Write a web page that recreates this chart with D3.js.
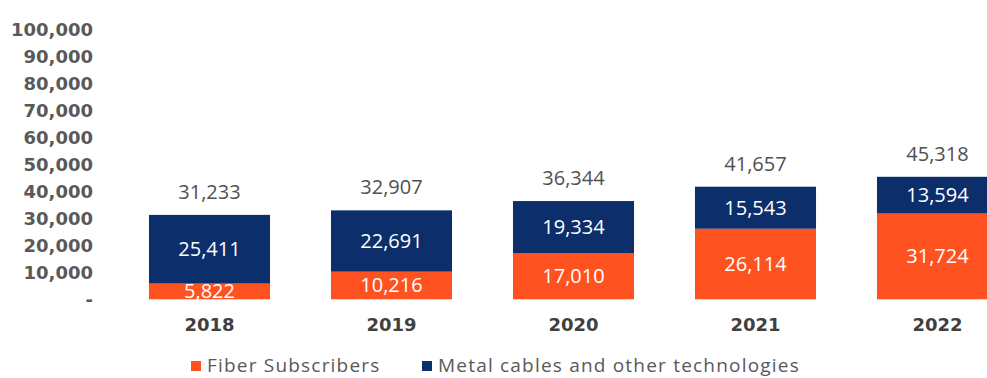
<!DOCTYPE html>
<html><head><meta charset="utf-8">
<script src="https://cdn.jsdelivr.net/npm/d3@7"></script>
<style>body{margin:0;background:#fff}svg{display:block}</style>
</head><body>
<svg id="c" width="987" height="378"></svg>
<script>
const years = ["2018","2019","2020","2021","2022"];
const fiber = [5822, 10216, 17010, 26114, 31724];
const metal = [25411, 22691, 19334, 15543, 13594];
const totals = [31233, 32907, 36344, 41657, 45318];
const yTicks = [0,10000,20000,30000,40000,50000,60000,70000,80000,90000,100000];
const seriesNames = ["Fiber Subscribers","Metal cables and other technologies"];
const colors = ["#FF5221","#0C2E6B"];

const svg = d3.select("#c");
const x = d3.scaleBand().domain(years).range([118.5, 1028.5]).paddingInner(0.335).paddingOuter(0.1675);
const y = d3.scaleLinear().domain([0,100000]).range([299.3, 29]);
const fmt = d3.format(",");

// y axis labels
const yAxis = d3.axisLeft(y).tickValues(yTicks).tickSize(0).tickPadding(0)
  .tickFormat(d => d === 0 ? "-" : fmt(d));
const ga = svg.append("g").attr("transform","translate(93,0)").call(yAxis);
ga.select(".domain").remove();
ga.selectAll("text").attr("fill","#595959").attr("font-family","DejaVu Sans")
  .attr("font-weight","bold").attr("font-size","18px").attr("dy","0.35em");

// stacked data
const stackData = years.map((yr,i)=>({year:yr, fiber:fiber[i], metal:metal[i]}));
const stack = d3.stack().keys(["fiber","metal"])(stackData);

stack.forEach((layer, li) => {
  const g = svg.append("g");
  g.selectAll("rect").data(layer).join("rect")
    .attr("x", d => x(d.data.year))
    .attr("width", x.bandwidth())
    .attr("y", d => y(d[1]))
    .attr("height", d => y(d[0]) - y(d[1]))
    .attr("fill", colors[li]);
  g.selectAll("text").data(layer).join("text")
    .attr("x", d => x(d.data.year) + x.bandwidth()/2)
    .attr("y", d => (y(d[0]) + y(d[1]))/2)
    .attr("dy","0.35em")
    .attr("text-anchor","middle")
    .attr("fill","#fff")
    .attr("font-family","Open Sans")
    .attr("font-size","20px")
    .text(d => fmt(d[1]-d[0]));
});

// totals
svg.append("g").selectAll("text").data(years).join("text")
  .attr("x", d => x(d) + x.bandwidth()/2)
  .attr("y", (d,i) => y(totals[i]) - 23)
  .attr("dy","0.35em")
  .attr("text-anchor","middle")
  .attr("fill","#505050")
  .attr("font-family","Open Sans")
  .attr("font-size","20px")
  .text((d,i) => fmt(totals[i]));

// x axis labels
const xAxis = d3.axisBottom(x).tickSize(0).tickPadding(0);
const gx = svg.append("g").attr("transform","translate(0,325)").call(xAxis);
gx.select(".domain").remove();
gx.selectAll("text").attr("fill","#404040").attr("font-family","DejaVu Sans")
  .attr("font-weight","bold").attr("font-size","18px").attr("dy","0.35em");

// legend
const legX = [191, 422];
const lg = svg.append("g");
seriesNames.forEach((n,i)=>{
  lg.append("rect").attr("x",legX[i]).attr("y",361).attr("width",10).attr("height",10).attr("fill",colors[i]);
  lg.append("text").attr("x",legX[i]+16).attr("y",365).attr("dy","0.35em")
    .attr("fill","#595959").attr("font-family","Open Sans").attr("font-size","19px")
    .attr("letter-spacing","1.2px").text(n);
});
</script>
</body></html>
